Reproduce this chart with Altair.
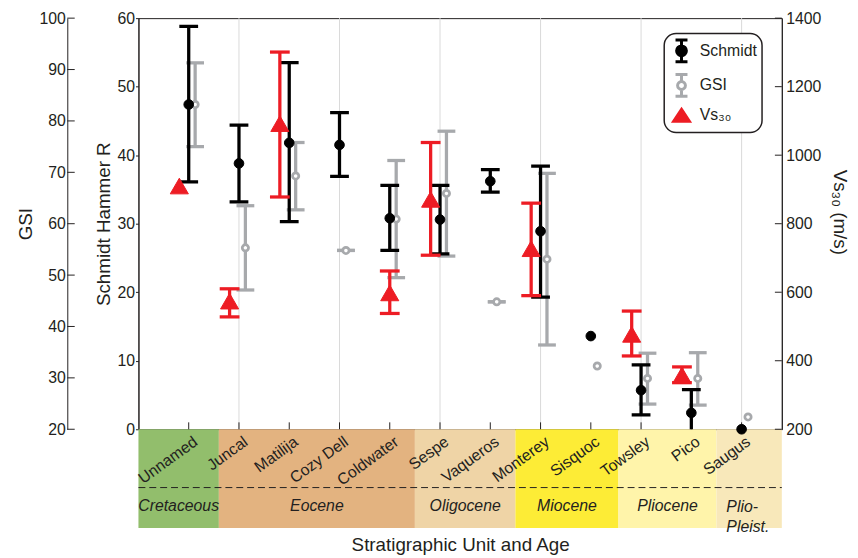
import altair as alt
import pandas as pd

# ---------------- data ----------------
units = ["Unnamed", "Juncal", "Matilija", "Cozy Dell", "Coldwater", "Sespe",
         "Vaqueros", "Monterey", "Sisquoc", "Towsley", "Pico", "Saugus"]
positions = list(range(1, 13))

schmidt_mean = [47.4, 38.8, 41.8, 41.5, 30.8, 30.6, 36.2, 28.9, 13.6, 5.7, 2.4, 0.0]
schmidt_low = [36.1, 33.2, 30.3, 36.9, 26.1, 25.6, 34.6, 19.3, None, 2.1, -1.0, None]
schmidt_high = [58.8, 44.4, 53.5, 46.2, 35.6, 35.6, 37.9, 38.4, None, 9.4, 5.8, None]

gsi_mean = [83.2, 55.3, 69.3, 54.8, 60.9, 65.9, 44.8, 53.1, 32.3, 29.9, 29.9, 22.4]
gsi_low = [75.0, 47.1, 62.7, 54.8, 49.5, 53.7, 44.8, 36.4, None, 24.9, 24.7, None]
gsi_high = [91.3, 63.5, 75.8, 54.8, 72.3, 78.0, 44.8, 69.8, None, 34.8, 34.9, None]

vs_mean = [910, 574, 1092, None, 598, 871, None, 727, None, 477, 358, None]
vs_low = [None, 528, 878, None, 538, 708, None, 590, None, 414, 336, None]
vs_high = [None, 610, 1301, None, 662, 1037, None, 860, None, 545, 382, None]

age_names = ["Cretaceous", "Eocene", "Oligocene", "Miocene", "Pliocene", "Plio-\nPleist."]
age_start = [0.0, 1.6, 5.5, 7.5, 9.55, 11.5]
age_end = [1.6, 5.5, 7.5, 9.55, 11.5, 12.8]
age_colors = ["#92be6c", "#e3b380", "#efd4a6", "#fdec36", "#fff4aa", "#f8e8ba"]

grid_positions = [2, 4, 6, 8, 10, 12]
gsi_ticks = [20, 30, 40, 50, 60, 70, 80, 90, 100]
schmidt_ticks = [0, 10, 20, 30, 40, 50, 60]
vs_ticks = [200, 400, 600, 800, 1000, 1200, 1400]

series_names = ["Schmidt", "GSI", "Vs\u2083\u2080"]

# ---------------- style ----------------
FONT = "Liberation Sans"
INK = "#231f20"
BLACK = "#000000"
GRAY = "#a7a9ac"
RED = "#ed1c24"
W, H = 651, 416

df = pd.DataFrame({
    "unit": units, "pos": positions,
    "s_mean": schmidt_mean, "s_low": schmidt_low, "s_high": schmidt_high,
    "g_mean": gsi_mean, "g_low": gsi_low, "g_high": gsi_high,
    "v_mean": vs_mean, "v_low": vs_low, "v_high": vs_high,
})
ages = pd.DataFrame({"age": age_names, "start": age_start, "end": age_end, "color": age_colors})
ages["mid"] = (ages["start"] + ages["end"]) / 2

xs = alt.Scale(domain=[0, 12.8], nice=False, zero=False)
x_axis = alt.Axis(title="Stratigraphic Unit and Age", labels=False, ticks=False,
                  domain=False, grid=False, titlePadding=108)


def X(field="pos"):
    return alt.X(f"{field}:Q", scale=xs, axis=x_axis)


fill_scale = alt.Scale(domain=series_names, range=[BLACK, "white", RED])
stroke_scale = alt.Scale(domain=series_names, range=[BLACK, GRAY, RED])

P_SCH = "M-0.55,-1L0.55,-1M0,-1L0,1M-0.55,1L0.55,1M0.45,0A0.45,0.45,0,1,1,-0.45,0A0.45,0.45,0,1,1,0.45,0Z"
P_GSI = "M-0.55,-1L0.55,-1M0,-1L0,-0.38M0,0.38L0,1M-0.55,1L0.55,1M0.36,0A0.36,0.36,0,1,1,-0.36,0A0.36,0.36,0,1,1,0.36,0Z"
P_TRI = "M0,-0.52L0.72,0.56L-0.72,0.56Z"
sym_expr = f"datum.value === 'Schmidt' ? '{P_SCH}' : (datum.value === 'GSI' ? '{P_GSI}' : '{P_TRI}')"

leg = alt.Legend(title=None, orient="none", legendX=532, legendY=15.6,
                 symbolType=alt.ExprRef(expr=sym_expr), symbolSize=484,
                 symbolStrokeWidth=3, symbolOpacity=1,
                 labelFont=FONT, labelFontSize=16, labelColor=INK, labelOffset=6,
                 padding=5, rowPadding=0, strokeColor=INK, cornerRadius=12,
                 fillColor="white")

base = alt.Chart(df)

# ---------------- frame / decoration ----------------
grid = alt.Chart(pd.DataFrame({"pos": grid_positions})).mark_rule(
    color="#d9d9d9", strokeWidth=1).encode(x=X())

xt = base.mark_rule(color=INK, strokeWidth=1).encode(
    x=X(), y=alt.value(H), y2=alt.value(H - 7))

bands = alt.Chart(ages).mark_rect().encode(
    x=X("start"), x2="end:Q",
    y=alt.value(H), y2=alt.value(H + 100),
    fill=alt.Fill("color:N", scale=None))

dash = alt.Chart(ages).mark_rule(color=INK, strokeWidth=1, strokeDash=[7, 4]).encode(
    x=alt.X("min(start):Q", scale=xs, axis=x_axis), x2="max(end):Q",
    y=alt.value(H + 59))

age_text = alt.Chart(ages).transform_filter("datum.start < 11").mark_text(
    font=FONT, fontSize=16, fontStyle="italic", color=INK, baseline="middle",
    align="center").encode(x=X("mid"), y=alt.value(H + 78), text="age:N")

age_text2 = alt.Chart(ages).transform_filter("datum.start >= 11").mark_text(
    font=FONT, fontSize=16, fontStyle="italic", color=INK, baseline="middle",
    align="left", lineBreak="\n", lineHeight=20, xOffset=10).encode(
    x=X("start"), y=alt.value(H + 79), text="age:N")

unit_text = base.mark_text(font=FONT, fontSize=16, color=INK, angle=324,
                           align="right", baseline="alphabetic", xOffset=10).encode(
    x=X(), y=alt.value(H + 15), text="unit:N")

# ---------------- GSI ----------------
gsi_y = alt.Scale(domain=[20, 100], nice=False, zero=False)
gsi_axis = alt.Axis(orient="left", offset=72, values=gsi_ticks, ticks=False,
                    labelPadding=2, title="GSI", titlePadding=4, grid=False)
G_OFF = 6.5
gsi_bar = base.mark_rule(color=GRAY, strokeWidth=3.3, xOffset=G_OFF).encode(
    x=X(), y=alt.Y("g_low:Q", scale=gsi_y, axis=gsi_axis), y2="g_high:Q")
gsi_cap = base.transform_fold(["g_low", "g_high"]).mark_tick(
    orient="horizontal", size=18, thickness=3.3, color=GRAY, opacity=1, xOffset=G_OFF).encode(
    x=X(), y=alt.Y("value:Q", scale=gsi_y, axis=gsi_axis))
gsi_tk = alt.Chart(pd.DataFrame({"t": gsi_ticks})).mark_rule(color=INK, strokeWidth=1).encode(
    x=alt.value(-72), x2=alt.value(-64.5), y=alt.Y("t:Q", scale=gsi_y, axis=gsi_axis))
gsi_pts = base.transform_calculate(series="'GSI'").mark_point(
    size=40, strokeWidth=2.8, opacity=1, fillOpacity=1, xOffset=G_OFF).encode(
    x=X(), y=alt.Y("g_mean:Q", scale=gsi_y, axis=gsi_axis),
    fill=alt.Fill("series:N", scale=fill_scale, legend=leg),
    stroke=alt.Stroke("series:N", scale=stroke_scale, legend=leg))
gsi_layer = alt.layer(gsi_tk, gsi_bar, gsi_cap, gsi_pts)

# ---------------- Schmidt ----------------
sch_y = alt.Scale(domain=[0, 60], nice=False, zero=False)
sch_axis = alt.Axis(orient="left", offset=0, values=schmidt_ticks, tickSize=3,
                    labelPadding=1, title="Schmidt Hammer R", titlePadding=3.5, grid=False)
sch_bar = base.mark_rule(color=BLACK, strokeWidth=3.3, clip=True).encode(
    x=X(), y=alt.Y("s_low:Q", scale=sch_y, axis=sch_axis), y2="s_high:Q")
sch_cap = base.transform_fold(["s_low", "s_high"]).mark_tick(
    orient="horizontal", size=19, thickness=3.3, color=BLACK, opacity=1, clip=True).encode(
    x=X(), y=alt.Y("value:Q", scale=sch_y, axis=sch_axis))
sch_pts = base.transform_calculate(series="'Schmidt'").mark_point(
    size=95, strokeWidth=1, opacity=1, fillOpacity=1).encode(
    x=X(), y=alt.Y("s_mean:Q", scale=sch_y, axis=sch_axis),
    fill=alt.Fill("series:N", scale=fill_scale, legend=leg),
    stroke=alt.Stroke("series:N", scale=stroke_scale, legend=leg))
sch_layer = alt.layer(sch_bar, sch_cap, sch_pts)

# ---------------- Vs30 ----------------
vs_y = alt.Scale(domain=[200, 1400], nice=False, zero=False)
vs_axis = alt.Axis(orient="right", values=vs_ticks, ticks=False, labelPadding=4, format="d",
                   title="Vs\u2083\u2080  (m/s)", titlePadding=9, titleY=196, grid=False)
V_OFF = alt.ExprRef(expr="datum.unit === 'Coldwater' ? 0 : -9.5")
vs_bar = base.mark_rule(color=RED, strokeWidth=3.3, xOffset=V_OFF).encode(
    x=X(), y=alt.Y("v_low:Q", scale=vs_y, axis=vs_axis), y2="v_high:Q")
vs_cap = base.transform_fold(["v_low", "v_high"]).mark_tick(
    orient="horizontal", size=20, thickness=3.3, color=RED, opacity=1, xOffset=V_OFF).encode(
    x=X(), y=alt.Y("value:Q", scale=vs_y, axis=vs_axis))
vs_tk = alt.Chart(pd.DataFrame({"t": vs_ticks})).mark_rule(color=INK, strokeWidth=1).encode(
    x=alt.value(W - 7), x2=alt.value(W), y=alt.Y("t:Q", scale=vs_y, axis=vs_axis))
vs_pts = base.transform_calculate(series="'Vs\u2083\u2080'").mark_point(
    shape="triangle-up", size=335, strokeWidth=1, opacity=1, fillOpacity=1, xOffset=V_OFF).encode(
    x=X(), y=alt.Y("v_mean:Q", scale=vs_y, axis=vs_axis),
    fill=alt.Fill("series:N", scale=fill_scale, legend=leg),
    stroke=alt.Stroke("series:N", scale=stroke_scale, legend=leg))
vs_layer = alt.layer(vs_tk, vs_bar, vs_cap, vs_pts)

chart = alt.layer(
    grid, bands, dash, age_text, age_text2, unit_text, xt,
    gsi_layer, sch_layer, vs_layer
).resolve_scale(y="independent").properties(
    width=W, height=H,
    padding={"left": 8, "top": -1, "right": 1, "bottom": 0},
).configure_view(stroke=INK, strokeWidth=1).configure_axis(
    labelFont=FONT, labelFontSize=16, labelColor=INK,
    titleFont=FONT, titleFontSize=19, titleFontWeight="normal", titleColor=INK,
    domainColor=INK, tickColor=INK, domainWidth=1,
).configure_legend(strokeWidth=1.5)

chart.save("out.html", embed_options={"renderer": "svg", "actions": False})
